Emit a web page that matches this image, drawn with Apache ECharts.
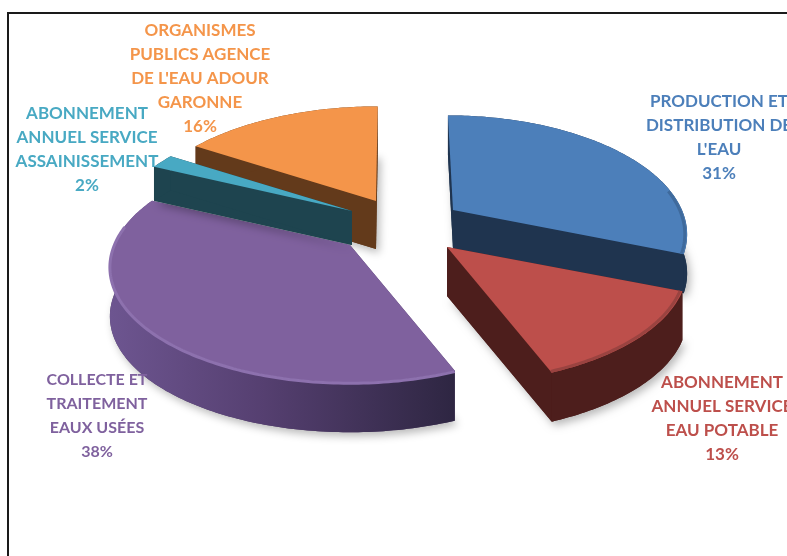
<!DOCTYPE html>
<html>
<head>
<meta charset="utf-8">
<title>Facture eau</title>
<script src="https://cdn.jsdelivr.net/npm/echarts@6/dist/echarts.min.js"></script>
<style>
  html, body { margin: 0; padding: 0; background: #fff; }
  #chart { width: 787px; height: 556px; }
</style>
</head>
<body>
<div id="chart"></div>
<script>
// chart data
var categories = [
  "PRODUCTION ET\nDISTRIBUTION DE\nL'EAU",
  "ABONNEMENT\nANNUEL SERVICE\nEAU POTABLE",
  "COLLECTE ET\nTRAITEMENT\nEAUX USÉES",
  "ABONNEMENT\nANNUEL SERVICE\nASSAINISSEMENT",
  "ORGANISMES\nPUBLICS AGENCE\nDE L'EAU ADOUR\nGARONNE"
];
var shares = [31, 13, 38, 2, 16];

// look of each slice, same order as categories
var topColors = ["#4c7fba", "#bd4f4b", "#7f619e", "#48a9c3", "#f4954a"];
var sideColors = ["#1f344f", "#4d1e1c", "#4f3b66", "#1e444f", "#633a1b"];
var edgeColors = ["#3f6a9c", "#9a4340", "#8d71ae", "#48a9c3", "#f4954a"];
var apexX = [453, 447, 350, 352, 376];
var apexY = [210, 247, 245, 211, 201];
var depths = [39, 49, 50, 34, 48];
var leans = [6, 0, 0, 0, -2];
var widthScale = [0.97, 1, 1, 1, 1];
var labelX = [719, 722, 97, 87, 200];
var labelY = [138, 419, 416, 150, 79];
var labelSize = [17, 17, 16, 17, 17];
var drawOrder = [4, 2, 3, 0, 1];

// pseudo 3d projection of the tilted pie
var radiusX = 236;
var radiusY = 112;
var perspective = 0.184;

var startAngles = [];
var total = 0;
shares.forEach(function (s) {
  startAngles.push(total / 100 * 360);
  total += s;
});

function project(i, deg, drop, r) {
  var a = deg * Math.PI / 180;
  var u = Math.sin(a);
  var v = -Math.cos(a);
  var s = 1 / (1 - perspective * v);
  return [
    apexX[i] + (radiusX * widthScale[i] * u * r + leans[i] * v) * s,
    apexY[i] + radiusY * v * s * r + drop
  ];
}

function arc(i, from, to, drop, r) {
  var pts = [];
  var n = Math.max(2, Math.ceil(to - from));
  for (var k = 0; k <= n; k++) {
    pts.push(project(i, from + (to - from) * k / n, drop, r === undefined ? 1 : r));
  }
  return pts;
}

function renderSlice(params, api) {
  var i = api.value(0);
  var from = api.value(1);
  var to = from + api.value(2) / 100 * 360;
  var d = depths[i];
  var apex = [apexX[i], apexY[i]];
  var apexLow = [apexX[i], apexY[i] + d];

  var topArc = arc(i, from, to, 0);
  var lowArc = arc(i, from, to, d);
  var side = sideColors[i];
  var rimFill = side;
  if (i === 2) {
    rimFill = new echarts.graphic.LinearGradient(0, 0, 1, 0, [
      { offset: 0, color: "#6d5590" },
      { offset: 0.45, color: "#553f70" },
      { offset: 1, color: "#2e2642" }
    ]);
  }

  var children = [
    // soft shadow under the slice
    {
      type: "polygon",
      shape: { points: [apexLow].concat(lowArc) },
      style: { fill: side, shadowBlur: 9, shadowColor: "rgba(0,0,0,0.28)", shadowOffsetX: 3, shadowOffsetY: 4 }
    },
    {
      type: "polygon",
      shape: { points: [topArc[0], lowArc[0], apexLow, apex] },
      style: { fill: side }
    },
    {
      type: "polygon",
      shape: { points: [topArc[topArc.length - 1], lowArc[lowArc.length - 1], apexLow, apex] },
      style: { fill: side }
    },
    {
      type: "polygon",
      shape: { points: topArc.concat(lowArc.slice().reverse()) },
      style: { fill: rimFill }
    },
    {
      type: "polygon",
      shape: { points: [apex].concat(topArc) },
      style: { fill: topColors[i] }
    }
  ];

  // bevel on the front edge
  if (to > 80 && from < 280) {
    var edgeFrom = Math.max(from, 80);
    var edgeTo = Math.min(to, 280);
    children.push({
      type: "polyline",
      shape: { points: arc(i, edgeFrom, edgeTo, i === 2 ? 1 : 0, i === 2 ? 1 : 0.99) },
      style: { fill: null, stroke: edgeColors[i], lineWidth: 3 }
    });
  }

  children.push({
    type: "text",
    z2: 10,
    style: {
      x: labelX[i],
      y: labelY[i],
      text: categories[i] + "\n" + shares[i] + "%",
      fill: topColors[i],
      font: "bold " + labelSize[i] + "px Lato",
      lineHeight: 24,
      align: "center",
      verticalAlign: "middle"
    }
  });

  return { type: "group", children: children };
}

var myChart = echarts.init(document.getElementById("chart"));
myChart.setOption({
  animation: false,
  backgroundColor: "#fff",
  graphic: [
    {
      type: "rect",
      silent: true,
      shape: { x: 8, y: 13, width: 820, height: 600 },
      style: { fill: null, stroke: "#1a1a1a", lineWidth: 2 }
    }
  ],
  series: [
    {
      type: "custom",
      coordinateSystem: "none",
      renderItem: renderSlice,
      silent: true,
      data: drawOrder.map(function (i) {
        return [i, startAngles[i], shares[i]];
      })
    }
  ]
});
</script>
</body>
</html>
